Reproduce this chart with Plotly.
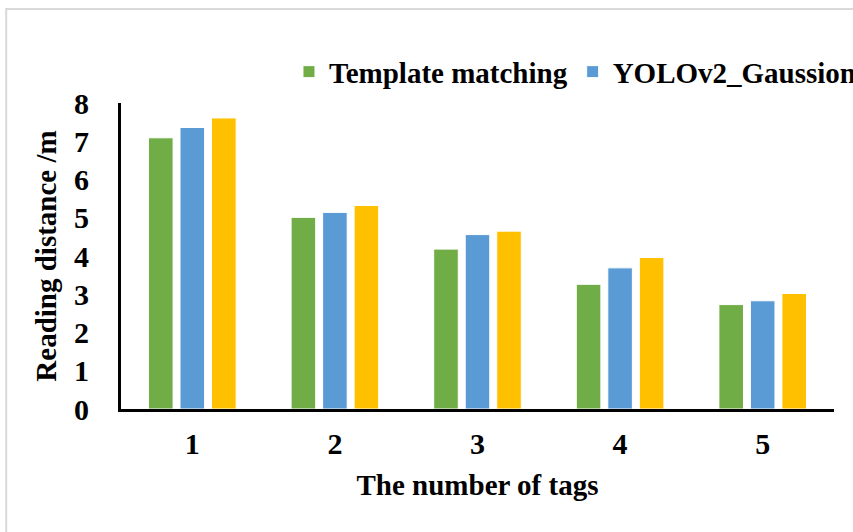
import plotly.graph_objects as go

# Reading distance (m) by number of tags
tags = ["1", "2", "3", "4", "5"]
template_matching = [7.09, 5.01, 4.18, 3.26, 2.73]
yolov2_gaussion = [7.36, 5.14, 4.56, 3.69, 2.83]
proposed = [7.61, 5.32, 4.65, 3.96, 3.02]

serif = "Times New Roman, Liberation Serif, serif"

fig = go.Figure()
fig.add_trace(go.Bar(x=tags, y=template_matching, name="Template matching",
                     marker=dict(color="#70AD47", line=dict(color="white", width=1))))
fig.add_trace(go.Bar(x=tags, y=yolov2_gaussion, name="YOLOv2_Gaussion",
                     marker=dict(color="#5B9BD5", line=dict(color="white", width=1))))
# third series name is cut off in the source, keep it out of the legend
fig.add_trace(go.Bar(x=tags, y=proposed, name="Proposed method", showlegend=False,
                     marker=dict(color="#FFC000", line=dict(color="white", width=1))))

fig.update_layout(
    width=853, height=532,
    margin=dict(l=121, r=19, t=103, b=123, autoexpand=False),
    paper_bgcolor="white", plot_bgcolor="white",
    barmode="group", bargap=0.337, bargroupgap=0.22,
    font=dict(family=serif, color="black", weight="bold"),
    legend=dict(orientation="h", x=0.2356, xanchor="left", y=1.102, yanchor="middle",
                font=dict(size=29, family=serif, weight="bold"), traceorder="normal"),
    shapes=[dict(type="rect", xref="paper", yref="paper", x0=-0.161, x1=1.3, y0=-0.7, y1=1.307,
                 line=dict(color="#d9d9d9", width=2), layer="below")],
)
fig.update_xaxes(
    showline=True, linecolor="black", linewidth=3, showgrid=False,
    tickfont=dict(size=30, family=serif, weight="bold"), ticklabelstandoff=6,
    title=dict(text="The number of tags", font=dict(size=29, family=serif, weight="bold"), standoff=16),
)
fig.update_yaxes(
    range=[0, 8], dtick=1, showline=True, linecolor="black", linewidth=3, showgrid=False,
    zeroline=False, tickfont=dict(size=30, family=serif, weight="bold"), ticklabelstandoff=23,
    title=dict(text="Reading distance /m", font=dict(size=29, family=serif, weight="bold"), standoff=9),
)

fig.write_html("out.html", config={"displayModeBar": False},
               post_script="document.body.style.margin='0';")
